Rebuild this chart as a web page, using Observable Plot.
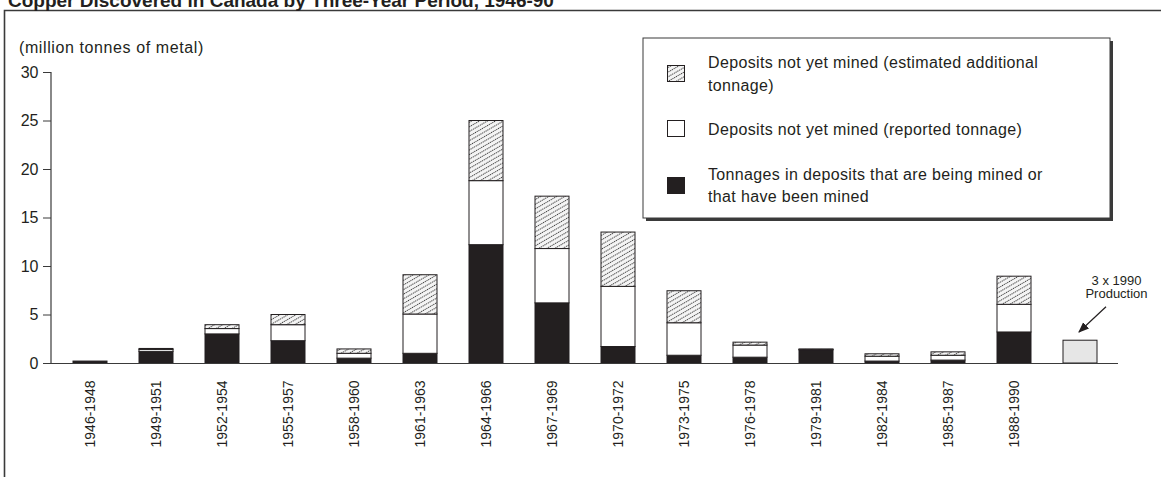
<!DOCTYPE html>
<html>
<head>
<meta charset="utf-8">
<script src="https://cdn.jsdelivr.net/npm/d3@7"></script>
<script src="https://cdn.jsdelivr.net/npm/@observablehq/plot@0.6"></script>
<style>
  html, body { margin: 0; padding: 0; background: #fff; }
  svg { display: block; }
</style>
</head>
<body>
<svg width="0" height="0" style="position:absolute">
  <defs>
    <pattern id="hatch" width="4" height="4" patternUnits="userSpaceOnUse" patternTransform="rotate(60)">
      <rect width="4" height="4" fill="#f4f4f4"></rect>
      <line x1="0.5" y1="0" x2="0.5" y2="4" stroke="#3a3a3a" stroke-width="1" stroke-dasharray="1.2 0.8"></line>
    </pattern>
    <marker id="arrowhead" viewBox="0 0 10 10" refX="9" refY="5" markerWidth="9" markerHeight="9" orient="auto">
      <path d="M0,1 L10,5 L0,9 z" fill="#231f20"></path>
    </marker>
  </defs>
</svg>
<div id="chart"></div>
<script>
const title = "Copper Discovered in Canada by Three-Year Period, 1946-90";
const yLabel = "(million tonnes of metal)";
const periods = ["1946-1948","1949-1951","1952-1954","1955-1957","1958-1960","1961-1963","1964-1966","1967-1969","1970-1972","1973-1975","1976-1978","1979-1981","1982-1984","1985-1987","1988-1990"];
const mined     = [0.2, 1.2, 3.0, 2.3, 0.5, 1.0, 12.2, 6.2, 1.7, 0.8, 0.6, 1.35, 0.2, 0.3, 3.2];
const reported  = [0,   0.2, 0.55, 1.65, 0.5, 4.05, 6.6, 5.6, 6.2, 3.35, 1.25, 0.05, 0.5, 0.5, 2.85];
const estimated = [0,   0.1, 0.4, 1.05, 0.45, 4.05, 6.2, 5.4, 5.6, 3.3, 0.3, 0.05, 0.25, 0.35, 2.9];
const productionKey = "prod";
const productionValue = 2.35;
const productionNote = "3 x 1990\nProduction";
const seriesKeys = ["mined", "reported", "estimated"];
const seriesFills = ["#231f20", "#ffffff", "url(#hatch)"];
const legendItems = [
  {key: "estimated", lines: ["Deposits not yet mined (estimated additional", "tonnage)"]},
  {key: "reported", lines: ["Deposits not yet mined (reported tonnage)"]},
  {key: "mined", lines: ["Tonnages in deposits that are being mined or", "that have been mined"]}
];
const yTicks = [0, 5, 10, 15, 20, 25, 30];

const rows = periods.flatMap((p, i) => [
  {period: p, series: "mined", value: mined[i]},
  {period: p, series: "reported", value: reported[i]},
  {period: p, series: "estimated", value: estimated[i]}
]).filter(d => d.value > 0);

const W = 1161, H = 477;
const mL = 51, mR = 43, mT = 72, mB = 114;

const plot = Plot.plot({
  width: W,
  height: H,
  marginLeft: mL,
  marginRight: mR,
  marginTop: mT,
  marginBottom: mB,
  style: {fontFamily: "'Liberation Sans', Arial, sans-serif", fontSize: "16px", color: "#231f20", background: "#fff"},
  x: {domain: [...periods, productionKey], paddingInner: 0.49, paddingOuter: 0.255, axis: null, label: null},
  y: {domain: [0, 30], axis: null, label: null},
  color: {domain: seriesKeys, range: seriesFills},
  marks: [
    Plot.barY(rows, Plot.stackY({x: "period", y: "value", fill: "series", order: seriesKeys, stroke: "#231f20", strokeWidth: 1})),
    Plot.barY([{period: productionKey, value: productionValue}], {x: "period", y: "value", fill: "#e6e6e6", stroke: "#231f20", strokeWidth: 1}),
    Plot.ruleY([0], {stroke: "#3a3a3a", strokeWidth: 1.2}),
    Plot.axisY({ticks: yTicks, tickSize: 8, tickPadding: 5, fontSize: 16, label: null, stroke: "#3a3a3a"}),
    Plot.axisX({tickRotate: -90, tickSize: 0, tickPadding: 17, fontSize: 14, label: null, tickFormat: d => d === productionKey ? "" : d}),
    Plot.text([{period: productionKey, y: 7.9, t: productionNote}], {x: "period", y: "y", text: "t", dx: 36, fontSize: 13, lineHeight: 1.0, textAnchor: "middle", fill: "#231f20"})
  ]
});

document.getElementById("chart").appendChild(plot);

const svg = d3.select(plot);
const xs = plot.scale("x"), ys = plot.scale("y");
const bw = xs.bandwidth;

// left axis line
svg.append("line")
  .attr("x1", mL).attr("x2", mL)
  .attr("y1", ys.apply(30)).attr("y2", ys.apply(0))
  .attr("stroke", "#3a3a3a").attr("stroke-width", 1.2);

// outer frame (top + left edges)
svg.append("path")
  .attr("d", `M4.5,${H} L4.5,10.5 L${W},10.5`)
  .attr("fill", "none").attr("stroke", "#3a3a3a").attr("stroke-width", 1.6);

// title (cropped at top, as in the source)
svg.append("text")
  .attr("x", 8).attr("y", 7)
  .attr("text-anchor", "start")
  .attr("font-size", 19).attr("font-weight", "bold")
  .attr("fill", "#231f20")
  .text(title);

// y label
svg.append("text")
  .attr("x", 19).attr("y", 53)
  .attr("text-anchor", "start")
  .attr("font-size", 16).attr("letter-spacing", "0.6px")
  .attr("fill", "#231f20")
  .text(yLabel);

// arrow for production note
const cx = xs.apply(productionKey) + bw / 2;
svg.append("line")
  .attr("x1", cx + 26).attr("y1", ys.apply(5.8))
  .attr("x2", cx - 1).attr("y2", ys.apply(3.2))
  .attr("stroke", "#231f20").attr("stroke-width", 1.2)
  .attr("marker-end", "url(#arrowhead)");

// legend box
const lg = svg.append("g").attr("text-anchor", "start");
const bx = 643, by = 38, bwid = 467, bh = 180;
lg.append("rect").attr("x", bx + 3).attr("y", by + 3).attr("width", bwid).attr("height", bh).attr("fill", "#3a3a3a");
lg.append("rect").attr("x", bx).attr("y", by).attr("width", bwid).attr("height", bh).attr("fill", "#fff").attr("stroke", "#3a3a3a").attr("stroke-width", 1);
const swatchY = [65, 120, 177];
const textY = [[68, 91], [135], [180, 202]];
legendItems.forEach((it, i) => {
  lg.append("rect")
    .attr("x", 667.5).attr("y", swatchY[i] + 0.5).attr("width", 17).attr("height", 16)
    .attr("fill", seriesFills[seriesKeys.indexOf(it.key)])
    .attr("stroke", "#231f20").attr("stroke-width", 1);
  it.lines.forEach((ln, j) => {
    lg.append("text")
      .attr("x", 708).attr("y", textY[i][j])
      .attr("text-anchor", "start")
      .attr("font-size", 16).attr("letter-spacing", "0.35px")
      .attr("fill", "#231f20")
      .text(ln);
  });
});
</script>
</body>
</html>
